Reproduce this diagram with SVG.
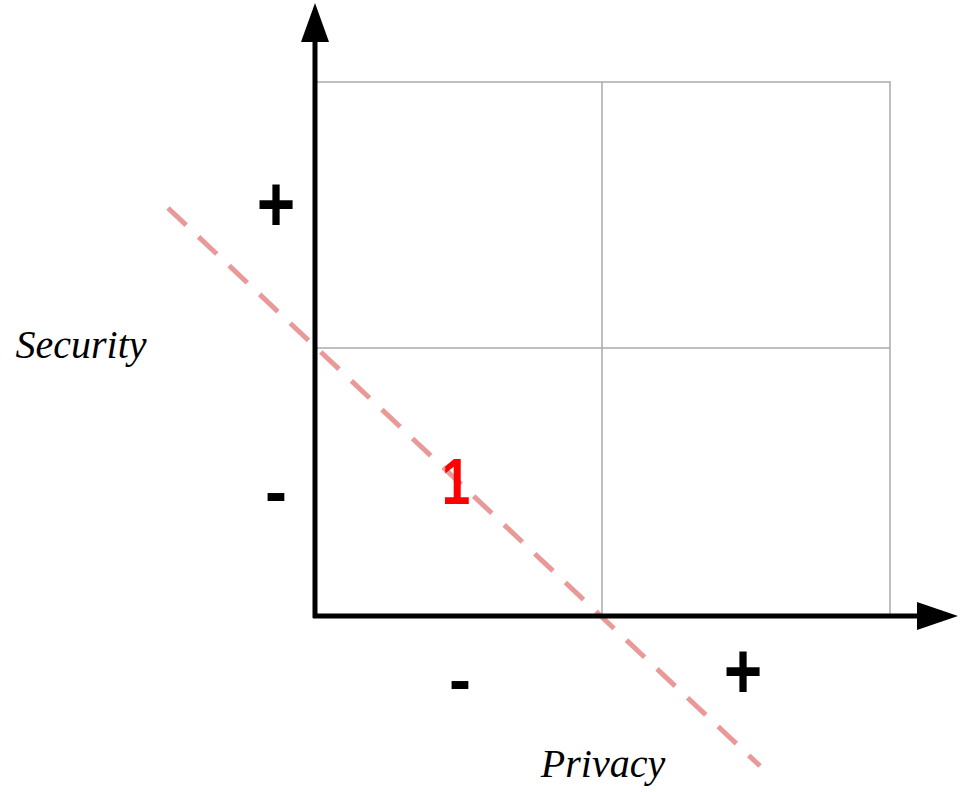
<svg xmlns="http://www.w3.org/2000/svg" width="963" height="792" viewBox="0 0 963 792">
<style>
.grid{stroke:#aaaaaa;stroke-width:1.5;fill:none}
.axis{stroke:#000;stroke-width:5;fill:none}
.sign{font-family:"Liberation Sans",Arial,sans-serif;font-weight:bold;font-size:66px;fill:#000;text-anchor:middle}
.lbl{font-family:"Liberation Serif","Times New Roman",serif;font-style:italic;font-size:40px;fill:#000;text-anchor:middle}
</style>
<rect width="963" height="792" fill="#fff"/>
<g id="grid">
<rect class="grid" x="315" y="82" width="575" height="533"/>
<line class="grid" x1="602" y1="82" x2="602" y2="615"/>
<line class="grid" x1="315" y1="348" x2="890" y2="348"/>
</g>
<g id="connectors">
<line x1="168" y1="208" x2="760" y2="766" stroke="#ea9999" stroke-width="5" stroke-dasharray="25 17"/>
<line class="axis" x1="315" y1="618" x2="315" y2="40"/>
<polygon points="315,3 329,42 301,42" fill="#000"/>
<line class="axis" x1="313" y1="616" x2="920" y2="616"/>
<polygon points="958,616 917,602 917,630" fill="#000"/>
</g>
<g id="labels">
<text class="sign" transform="translate(276,208) scale(1,1.2)" x="0" y="19">+</text>
<text class="sign" x="276" y="514">-</text>
<text class="sign" x="460" y="702">-</text>
<text class="sign" transform="translate(743,675) scale(1,1.2)" x="0" y="19">+</text>
<text transform="translate(456,504) scale(0.8,1)" x="0" y="0" font-family="Liberation Sans,Arial,sans-serif" font-weight="bold" font-size="64" fill="#ff0000" text-anchor="middle">1</text>
<text class="lbl" x="81" y="358">Security</text>
<text class="lbl" x="603" y="777" font-size="38">Privacy</text>
</g>
</svg>
